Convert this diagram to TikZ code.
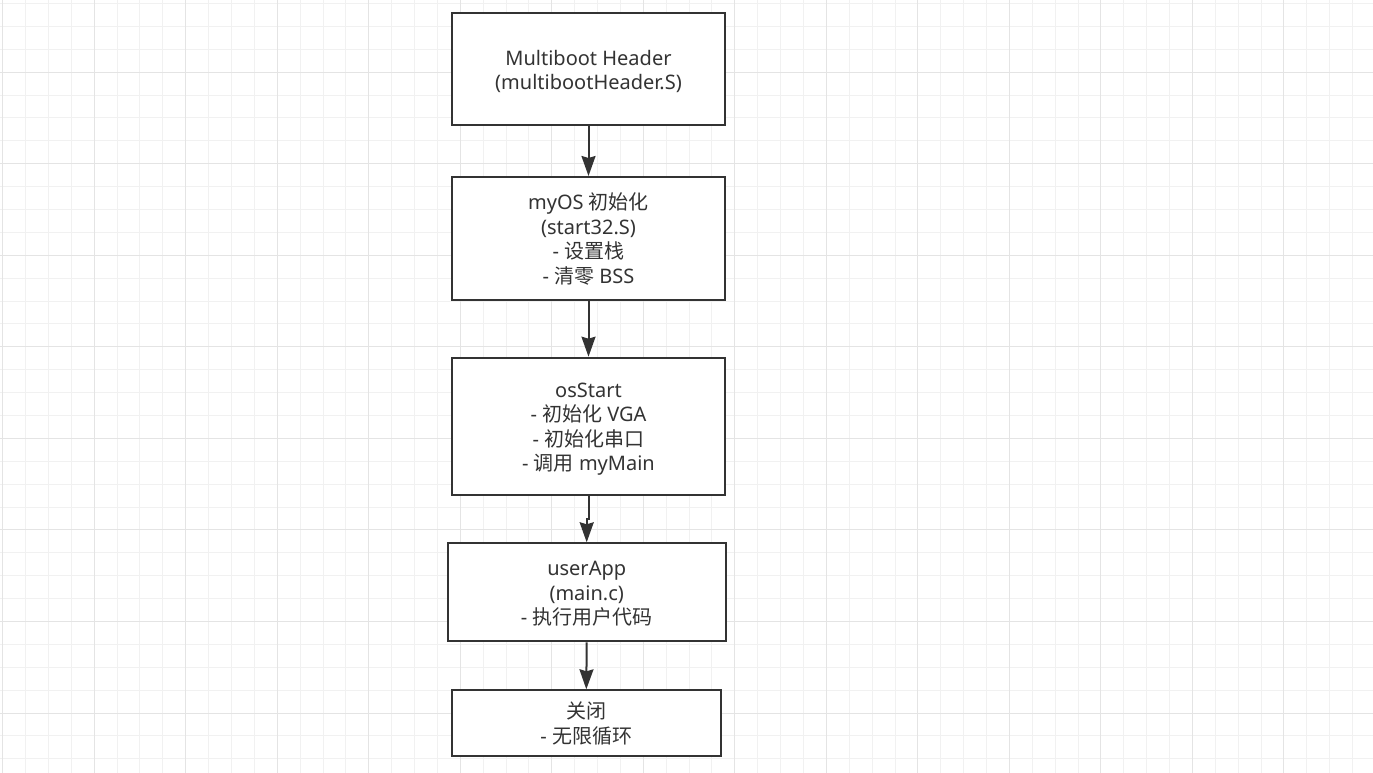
\documentclass[tikz,border=0pt]{standalone}
\usepackage{fontspec}
\setmainfont{Noto Sans}
\newfontfamily\cjk{Noto Sans CJK SC}
\usetikzlibrary{arrows.meta,calc}
\definecolor{ink}{HTML}{333333}
\definecolor{gmin}{HTML}{F1F1F1}
\definecolor{gmaj}{HTML}{E4E4E4}
\newcommand{\zh}[1]{{\cjk #1}}
\begin{document}
\begin{tikzpicture}[x=1pt,y=-1pt,
  box/.style={draw=ink, line width=2pt, fill=white, inner sep=0pt},
  txt/.style={text=ink, inner sep=0pt, font=\fontsize{20}{24.5}\selectfont, yshift=-3pt},
  arr/.style={draw=ink, line width=2pt, -{Stealth[length=20pt,width=14pt,inset=2pt]}},
  gridmin/.style={draw=gmin, line width=1pt},
  gridmaj/.style={draw=gmaj, line width=1pt}]
\useasboundingbox (0,0) rectangle (1373,773);
\fill[white] (0,0) rectangle (1373,773);
% grid
\foreach \i in {-1,...,60} \draw[gridmin] ({2.7+22.88*\i},0) -- ++(0,773);
\foreach \i in {-4,...,31} \draw[gridmin] (0,{72.2+22.888*\i}) -- ++(1373,0);
\foreach \i in {0,...,15} \draw[gridmaj] ({2.7+91.52*\i},0) -- ++(0,773);
\foreach \i in {-1,...,7} \draw[gridmaj] (0,{72.2+91.55*\i}) -- ++(1373,0);
% boxes
\node[box, minimum width=273pt, minimum height=112pt] (b1) at (588.5,69.5) {};
\node[box, minimum width=273pt, minimum height=123pt] (b2) at (588.5,238.5) {};
\node[box, minimum width=273pt, minimum height=137pt] (b3) at (588.5,426.2) {};
\node[box, minimum width=278pt, minimum height=98pt] (b4) at (586.7,592.3) {};
\node[box, minimum width=268.7pt, minimum height=65.4pt] (b5) at (586.3,723) {};
% texts
\node[txt] (t1) at (b1.center) {\begin{tabular}{@{}c@{}}Multiboot Header\\(multibootHeader.S)\end{tabular}};
\node[txt] (t2) at (b2.center) {\begin{tabular}{@{}c@{}}myOS \zh{初始化}\\(start32.S)\\- \zh{设置栈}\\- \zh{清零} BSS\end{tabular}};
\node[txt] (t3) at (b3.center) {\begin{tabular}{@{}c@{}}osStart\\- \zh{初始化} VGA\\- \zh{初始化串口}\\- \zh{调用} myMain\end{tabular}};
\node[txt] (t4) at (b4.center) {\begin{tabular}{@{}c@{}}userApp\\(main.c)\\- \zh{执行用户代码}\end{tabular}};
\node[txt] (t5) at (b5.center) {\begin{tabular}{@{}c@{}}\zh{关闭}\\- \zh{无限循环}\end{tabular}};
% connectors
\draw[arr] (b1.south) -- (b2.north);
\draw[arr] (b2.south) -- (b3.north);
\draw[arr] (b3.south) |- ($(b3.south)!0.5!(b4.north)$) -| (b4.north);
\draw[arr] (b4.south) -- (b5.north);
\end{tikzpicture}
\end{document}
